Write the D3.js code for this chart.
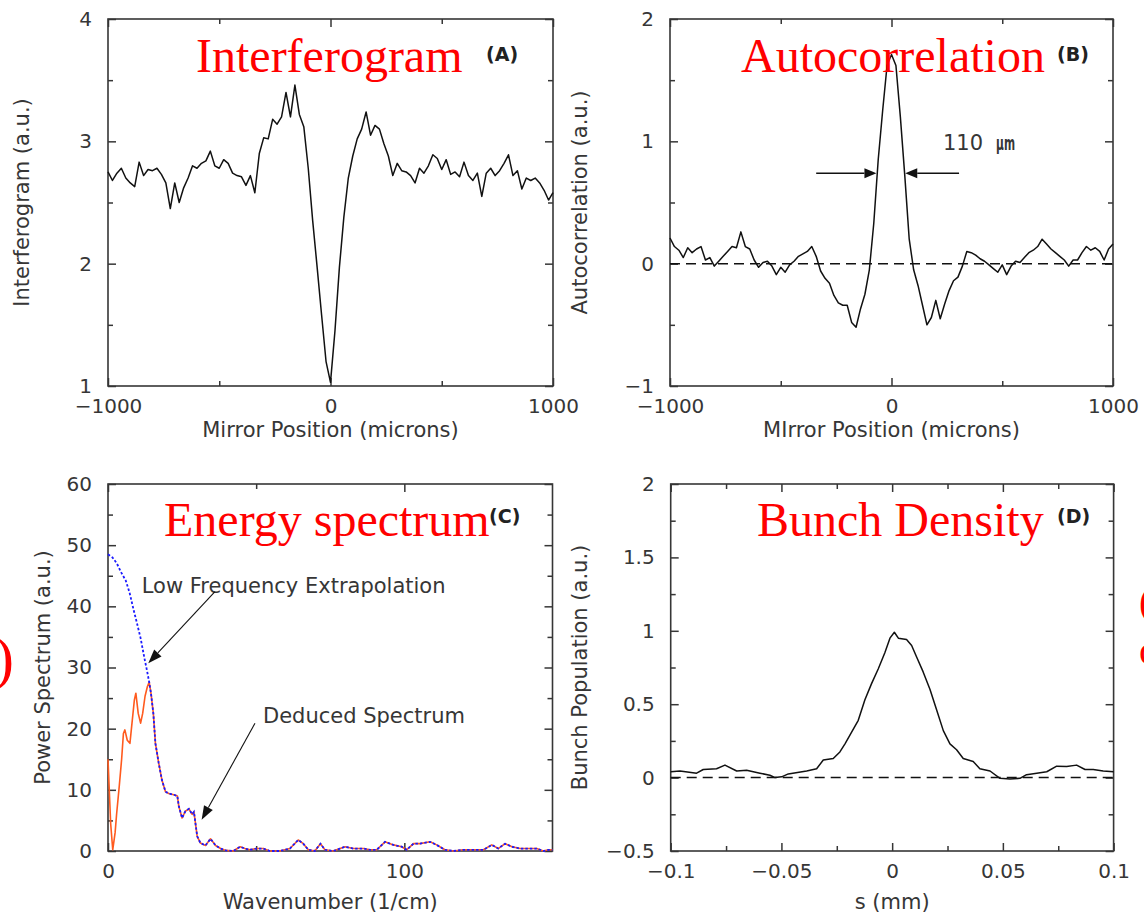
<!DOCTYPE html>
<html><head><meta charset="utf-8">
<script src="https://cdn.jsdelivr.net/npm/d3@7"></script>
<style>
body{margin:0;background:#fff;}
svg{display:block;background:#fff;}
</style></head>
<body><svg id="chart" width="1144" height="917"></svg>
<script>
// ---------------- DATA ----------------
// (A) Interferogram, mirror position grid in microns
const aPositions = d3.range(-1000, 1001, 20);
const aInterferogram = [
 2.75, 2.68, 2.74, 2.78, 2.70, 2.66, 2.63, 2.83, 2.72, 2.77,
 2.76, 2.78, 2.73, 2.66, 2.45, 2.66, 2.50, 2.62, 2.70, 2.80,
 2.78, 2.82, 2.84, 2.92, 2.80, 2.78, 2.85, 2.82, 2.74, 2.72,
 2.71, 2.64, 2.72, 2.58, 2.90, 3.03, 3.02, 3.18, 3.14, 3.20,
 3.40, 3.20, 3.46, 3.22, 3.12, 2.78, 2.35, 1.97, 1.58, 1.20,
 1.03, 1.45, 1.97, 2.38, 2.70, 2.88, 3.02, 3.10, 3.24, 3.05,
 3.13, 3.10, 2.98, 2.88, 2.72, 2.82, 2.76, 2.75, 2.72, 2.66,
 2.78, 2.74, 2.80, 2.89, 2.86, 2.77, 2.85, 2.73, 2.75, 2.71,
 2.83, 2.72, 2.68, 2.74, 2.55, 2.74, 2.78, 2.72, 2.76, 2.82,
 2.89, 2.72, 2.76, 2.61, 2.70, 2.68, 2.70, 2.66, 2.60, 2.52,
 2.58];
// (B) Autocorrelation
const bPositions = d3.range(-1000, 1001, 20);
const bAutocorrelation = [
 0.21, 0.14, 0.11, 0.05, 0.13, 0.09, 0.12, 0.14, 0.03, 0.05,
 -0.02, 0.02, 0.06, 0.10, 0.14, 0.13, 0.26, 0.14, 0.12, 0.03,
 -0.03, 0.01, 0.02, -0.02, -0.09, -0.03, -0.07, -0.01, 0.02, 0.06,
 0.08, 0.10, 0.14, 0.06, -0.06, -0.12, -0.16, -0.26, -0.32, -0.34,
 -0.34, -0.48, -0.52, -0.37, -0.25, -0.05, 0.33, 0.85, 1.25, 1.62,
 1.71, 1.62, 1.20, 0.72, 0.20, -0.05, -0.18, -0.34, -0.50, -0.44,
 -0.30, -0.45, -0.33, -0.22, -0.14, -0.11, -0.02, 0.10, 0.09, 0.07,
 0.04, 0.02, -0.01, -0.04, -0.07, -0.01, -0.09, -0.02, 0.02, 0.01,
 0.05, 0.09, 0.11, 0.14, 0.20, 0.16, 0.12, 0.09, 0.06, 0.03,
 -0.02, 0.03, 0.03, 0.09, 0.14, 0.11, 0.13, 0.10, 0.03, 0.12,
 0.16];
const bFwhmArrowStarts = [-340, 305];
const bFwhmArrowEnds = [-68, 62];
const bFwhmLevel = 0.74;
// (C) Power spectrum (measured) and low-frequency extrapolation
const cWavenumber = [0, 0.9, 1.6, 2.4, 2.9, 3.8, 4.6, 5.2, 5.7, 6.5, 7.4, 8.2, 8.9, 9.4, 10.2, 11.0, 11.7, 12.5, 13.3, 13.9,
 14.5, 15.3, 16.0, 17.1, 18.2, 19.4, 20.5, 22.2, 23.4, 23.9, 25.0, 26.1, 27.3, 28.4, 29.0, 30.1, 31.2, 32.9, 34.6, 36.3,
 38.0, 39.7, 42.3, 44.6, 46.2, 47.9, 50.1, 52.4, 54.6, 58.0, 61.4, 64.2, 65.9, 67.6, 69.8, 71.7, 73.2, 76.0, 78.3, 80.0,
 82.8, 86.2, 88.4, 90.7, 93.5, 96.3, 99.1, 100.8, 103.1, 105.3, 108.7, 110.9, 113.7, 116.6, 119.9, 123.3, 126.7, 129.5, 131.7, 134.0,
 136.3, 139.1, 142.4, 144.7, 146.9, 148.6, 150];
const cPower = [15, 4.5, 0.2, 3, 6, 10.6, 15, 19.2, 19.8, 18.1, 17.6, 21.4, 24.7, 25.8, 22.5, 20.9, 22.5, 25.3, 26.9, 27.6,
 25.8, 22.5, 17.6, 14.4, 11.6, 9.7, 9.4, 9.2, 9.0, 7.3, 5.4, 6.5, 6.9, 6.0, 6.4, 2.4, 1.3, 0.9, 2.0, 0.9,
 0.4, 0.1, 0, 0.7, 0.4, 0.2, 0.4, 0.4, 0, 0, 0.4, 1.8, 1.2, 0.2, 0, 1.2, 0.2, 0, 0.4, 0.7,
 0.4, 0.4, 0.2, 0.2, 1.5, 1.0, 0.7, 0.2, 1.2, 1.2, 1.5, 1.0, 0.2, 0, 0.2, 0.2, 0.2, 1.0, 0.4, 1.2,
 0.7, 0.4, 0.4, 0.4, 0, 0.2, 0.2];
const cExtrapWavenumber = [0, 1.5, 3, 4.5, 6, 7.3, 8.6, 9.8, 11, 12.3, 13.2, 13.9];
const cExtrapPower = [48.5, 48, 47, 45.5, 44.2, 42.2, 39.5, 37.2, 34.8, 31.5, 29.4, 27.6];
const cAnnotations = ["Low Frequency Extrapolation", "Deduced Spectrum"];
const cAnnotationAnchors = [[11.4, 42.2], [52.3, 20.9]];
const cArrowStarts = [[36.1, 42.4], [49.6, 20.9]];
const cArrowTips = [[13.6, 30.7], [31.6, 5.1]];
// (D) Bunch density
const dS = [-0.1, -0.0958, -0.0883, -0.0853, -0.0793, -0.0755, -0.0702, -0.0657, -0.0597, -0.0552,
 -0.0529, -0.0499, -0.0469, -0.0386, -0.0341, -0.0311, -0.0266, -0.0236, -0.0213, -0.0183,
 -0.0153, -0.0123, -0.0093, -0.0063, -0.0033, -0.001, 0.001, 0.0028, 0.0065, 0.0088,
 0.0111, 0.014, 0.0171, 0.0201, 0.0231, 0.0261, 0.0291, 0.0321, 0.0366, 0.0396,
 0.0442, 0.0487, 0.0532, 0.0577, 0.0607, 0.0653, 0.0698, 0.0743, 0.0788, 0.0833,
 0.0871, 0.0908, 0.0953, 0.1];
const dDensity = [0.04, 0.045, 0.03, 0.055, 0.06, 0.085, 0.045, 0.05, 0.03, 0.016,
 0.0, 0.005, 0.025, 0.045, 0.06, 0.12, 0.13, 0.175, 0.23, 0.31,
 0.39, 0.53, 0.64, 0.74, 0.85, 0.95, 0.99, 0.95, 0.94, 0.9,
 0.82, 0.72, 0.6, 0.46, 0.32, 0.23, 0.19, 0.13, 0.11, 0.06,
 0.045, -0.005, -0.01, -0.005, 0.02, 0.03, 0.04, 0.078, 0.075, 0.085,
 0.055, 0.055, 0.045, 0.04];

// Tick values / labels
const aXTicks = [-1000, 0, 1000], aXTickLabels = ["\u22121000", "0", "1000"], aXMinor = [-500, 500];
const aYTicks = [1, 2, 3, 4], aYTickLabels = ["1", "2", "3", "4"], aYMinor = [1.5, 2.5, 3.5];
const bXTicks = [-1000, 0, 1000], bXTickLabels = ["\u22121000", "0", "1000"], bXMinor = [-500, 500];
const bYTicks = [-1, 0, 1, 2], bYTickLabels = ["\u22121", "0", "1", "2"], bYMinor = [-0.5, 0.5, 1.5];
const cXTicks = [0, 100], cXTickLabels = ["0", "100"], cXMinor = [50];
const cYTicks = [0, 10, 20, 30, 40, 50, 60], cYTickLabels = ["0", "10", "20", "30", "40", "50", "60"], cYMinor = [5, 15, 25, 35, 45, 55];
const dXTicks = [-0.1, -0.05, 0, 0.05, 0.1], dXTickLabels = ["\u22120.1", "\u22120.05", "0", "0.05", "0.1"], dXMinor = [-0.075, -0.025, 0.025, 0.075];
const dYTicks = [-0.5, 0, 0.5, 1, 1.5, 2], dYTickLabels = ["\u22120.5", "0", "0.5", "1", "1.5", "2"], dYMinor = [-0.25, 0.25, 0.75, 1.25, 1.75];

// ---------------- DRAWING ----------------
const svg = d3.select("#chart");
const SANS = '"DejaVu Sans", Verdana, sans-serif';
const SERIF = '"Liberation Serif", "Times New Roman", serif';
const INK = "#363636";

function panel(cfg) {
  const x = d3.scaleLinear().domain(cfg.xDomain).range([cfg.left, cfg.right]);
  const y = d3.scaleLinear().domain(cfg.yDomain).range([cfg.bottom, cfg.top]);
  const g = svg.append("g");
  const styleAxis = sel => {
    sel.select(".domain").remove();
    sel.selectAll(".tick line").attr("stroke", INK).attr("stroke-width", 1.5);
    sel.selectAll(".tick text").attr("font-family", SANS).attr("font-size", 20).attr("fill", INK);
  };
  g.append("g").attr("transform", `translate(0,${cfg.bottom})`)
    .call(d3.axisBottom(x).tickValues(cfg.xTicks).tickSizeInner(-8).tickSizeOuter(0).tickPadding(13)
      .tickFormat((d, i) => cfg.xLabels[i])).call(styleAxis);
  g.append("g").attr("transform", `translate(${cfg.left},0)`)
    .call(d3.axisLeft(y).tickValues(cfg.yTicks).tickSizeInner(-8).tickSizeOuter(0).tickPadding(16)
      .tickFormat((d, i) => cfg.yLabels[i])).call(styleAxis);
  const tickOnly = (axisFn, vals, size) => axisFn.tickValues(vals).tickSizeInner(-size).tickSizeOuter(0).tickFormat("");
  g.append("g").attr("transform", `translate(0,${cfg.top})`).call(tickOnly(d3.axisTop(x), cfg.xTicks, 8)).call(styleAxis);
  g.append("g").attr("transform", `translate(${cfg.right},0)`).call(tickOnly(d3.axisRight(y), cfg.yTicks, 8)).call(styleAxis);
  g.append("g").attr("transform", `translate(0,${cfg.bottom})`).call(tickOnly(d3.axisBottom(x), cfg.xMinor, 5)).call(styleAxis);
  g.append("g").attr("transform", `translate(0,${cfg.top})`).call(tickOnly(d3.axisTop(x), cfg.xMinor, 5)).call(styleAxis);
  g.append("g").attr("transform", `translate(${cfg.left},0)`).call(tickOnly(d3.axisLeft(y), cfg.yMinor, 5)).call(styleAxis);
  g.append("g").attr("transform", `translate(${cfg.right},0)`).call(tickOnly(d3.axisRight(y), cfg.yMinor, 5)).call(styleAxis);
  g.append("rect").attr("x", cfg.left).attr("y", cfg.top)
    .attr("width", cfg.right - cfg.left).attr("height", cfg.bottom - cfg.top)
    .attr("fill", "none").attr("stroke", INK).attr("stroke-width", 1.6);
  g.append("text").attr("x", (cfg.left + cfg.right) / 2).attr("y", cfg.xTitleY)
    .attr("text-anchor", "middle").attr("font-family", SANS).attr("font-size", 21).attr("fill", INK)
    .text(cfg.xTitle);
  g.append("text").attr("transform", `translate(${cfg.yTitleX},${(cfg.top + cfg.bottom) / 2}) rotate(-90)`)
    .attr("text-anchor", "middle").attr("font-family", SANS).attr("font-size", 21).attr("fill", INK)
    .text(cfg.yTitle);
  g.append("text").attr("x", cfg.letterX).attr("y", cfg.letterY)
    .attr("font-family", SANS).attr("font-weight", "bold").attr("font-size", 19).attr("fill", "#222")
    .text(cfg.letter);
  return {g, x, y};
}

function redTitle(txt, xPos, yPos) {
  svg.append("text").attr("x", xPos).attr("y", yPos).attr("font-family", SERIF)
    .attr("font-size", 48).attr("fill", "#ff0000").text(txt);
}

function arrow(g, x1, y1, x2, y2, len, half, width) {
  const ang = Math.atan2(y2 - y1, x2 - x1);
  const bx = x2 - len * Math.cos(ang), by = y2 - len * Math.sin(ang);
  g.append("line").attr("x1", x1).attr("y1", y1).attr("x2", bx).attr("y2", by)
    .attr("stroke", "#111").attr("stroke-width", width);
  g.append("path").attr("d",
    `M${x2},${y2}L${bx - half * Math.sin(ang)},${by + half * Math.cos(ang)}L${bx + half * Math.sin(ang)},${by - half * Math.cos(ang)}Z`)
    .attr("fill", "#111");
}

// ---- Panel A ----
const A = panel({left: 108, right: 553, top: 19, bottom: 386, xDomain: [-1000, 1000], yDomain: [1, 4],
  xTicks: aXTicks, xLabels: aXTickLabels, xMinor: aXMinor, yTicks: aYTicks, yLabels: aYTickLabels, yMinor: aYMinor,
  xTitle: "Mirror Position (microns)", xTitleY: 437, yTitle: "Interferogram (a.u.)", yTitleX: 29,
  letter: "(A)", letterX: 486, letterY: 61});
A.g.append("path").datum(aPositions.map((p, i) => [p, aInterferogram[i]]))
  .attr("fill", "none").attr("stroke", "#111").attr("stroke-width", 1.5).attr("stroke-linejoin", "round")
  .attr("d", d3.line().x(d => A.x(d[0])).y(d => A.y(d[1])));

// ---- Panel B ----
const B = panel({left: 670, right: 1113, top: 19, bottom: 386, xDomain: [-1000, 1000], yDomain: [-1, 2],
  xTicks: bXTicks, xLabels: bXTickLabels, xMinor: bXMinor, yTicks: bYTicks, yLabels: bYTickLabels, yMinor: bYMinor,
  xTitle: "MIrror Position (microns)", xTitleY: 437, yTitle: "Autocorrelation (a.u.)", yTitleX: 587,
  letter: "(B)", letterX: 1057, letterY: 61});
B.g.append("line").attr("x1", B.x(-1000)).attr("x2", B.x(1000)).attr("y1", B.y(0)).attr("y2", B.y(0))
  .attr("stroke", "#111").attr("stroke-width", 1.5).attr("stroke-dasharray", "10,6");
B.g.append("path").datum(bPositions.map((p, i) => [p, bAutocorrelation[i]]))
  .attr("fill", "none").attr("stroke", "#111").attr("stroke-width", 1.5).attr("stroke-linejoin", "round")
  .attr("d", d3.line().x(d => B.x(d[0])).y(d => B.y(d[1])));
bFwhmArrowStarts.forEach((s, i) => arrow(B.g, B.x(s), B.y(bFwhmLevel), B.x(bFwhmArrowEnds[i]), B.y(bFwhmLevel), 12, 5, 1.5));
const fw = B.g.append("text").attr("x", 943).attr("y", 150).attr("font-family", SANS).attr("font-size", 21).attr("fill", INK);
fw.append("tspan").text("110");
fw.append("tspan").attr("dx", 13).attr("font-size", 20).attr("font-weight", "bold")
  .attr("textLength", 19).attr("lengthAdjust", "spacingAndGlyphs").text("\u00b5m");

// ---- Panel C ----
const C = panel({left: 108, right: 552.5, top: 484, bottom: 851, xDomain: [0, 150], yDomain: [0, 60],
  xTicks: cXTicks, xLabels: cXTickLabels, xMinor: cXMinor, yTicks: cYTicks, yLabels: cYTickLabels, yMinor: cYMinor,
  xTitle: "Wavenumber (1/cm)", xTitleY: 909, yTitle: "Power Spectrum (a.u.)", yTitleX: 50,
  letter: "(C)", letterX: 489, letterY: 523});
const cMeasured = cWavenumber.map((w, i) => [w, cPower[i]]);
const cBlue = cExtrapWavenumber.map((w, i) => [w, cExtrapPower[i]])
  .concat(cMeasured.filter(d => d[0] > cExtrapWavenumber[cExtrapWavenumber.length - 1]));
const cLine = d3.line().x(d => C.x(d[0])).y(d => C.y(d[1]));
C.g.append("path").datum(cMeasured).attr("fill", "none").attr("stroke", "#ff5a1e").attr("stroke-width", 1.6)
  .attr("stroke-linejoin", "round").attr("d", cLine);
C.g.append("path").datum(cBlue).attr("fill", "none").attr("stroke", "#1a1aff").attr("stroke-width", 1.8)
  .attr("stroke-dasharray", "2.5,2").attr("d", cLine);
cAnnotations.forEach((t, i) => {
  C.g.append("text").attr("x", C.x(cAnnotationAnchors[i][0])).attr("y", C.y(cAnnotationAnchors[i][1]))
    .attr("font-family", SANS).attr("font-size", 21).attr("fill", INK).text(t);
  arrow(C.g, C.x(cArrowStarts[i][0]), C.y(cArrowStarts[i][1]), C.x(cArrowTips[i][0]), C.y(cArrowTips[i][1]), 14, 5, 1.1);
});

// ---- Panel D ----
const D = panel({left: 670.7, right: 1113.6, top: 484, bottom: 851, xDomain: [-0.1, 0.1], yDomain: [-0.5, 2],
  xTicks: dXTicks, xLabels: dXTickLabels, xMinor: dXMinor, yTicks: dYTicks, yLabels: dYTickLabels, yMinor: dYMinor,
  xTitle: "s (mm)", xTitleY: 909, yTitle: "Bunch Population (a.u.)", yTitleX: 587,
  letter: "(D)", letterX: 1057, letterY: 523});
D.g.append("line").attr("x1", D.x(-0.1)).attr("x2", D.x(0.1)).attr("y1", D.y(0)).attr("y2", D.y(0))
  .attr("stroke", "#111").attr("stroke-width", 1.5).attr("stroke-dasharray", "10,6");
D.g.append("path").datum(dS.map((s, i) => [s, dDensity[i]]))
  .attr("fill", "none").attr("stroke", "#111").attr("stroke-width", 1.5).attr("stroke-linejoin", "round")
  .attr("d", d3.line().x(d => D.x(d[0])).y(d => D.y(d[1])));

// ---- Red slide titles ----
redTitle("Interferogram", 196, 72);
redTitle("Autocorrelation", 741, 72);
redTitle("Energy spectrum", 164, 536);
redTitle("Bunch Density", 757, 536);
// cropped slide text at the page edges (as in the reference)
svg.append("text").attr("x", -6).attr("y", 678).attr("font-family", SERIF).attr("font-size", 60).attr("fill", "#ff0000").text(")");
svg.append("text").attr("x", 1139).attr("y", 615).attr("font-family", SERIF).attr("font-size", 40).attr("fill", "#ff0000").text("(");
svg.append("text").attr("x", 1139).attr("y", 664).attr("font-family", SERIF).attr("font-size", 40).attr("fill", "#ff0000").text("c");
</script></body></html>
